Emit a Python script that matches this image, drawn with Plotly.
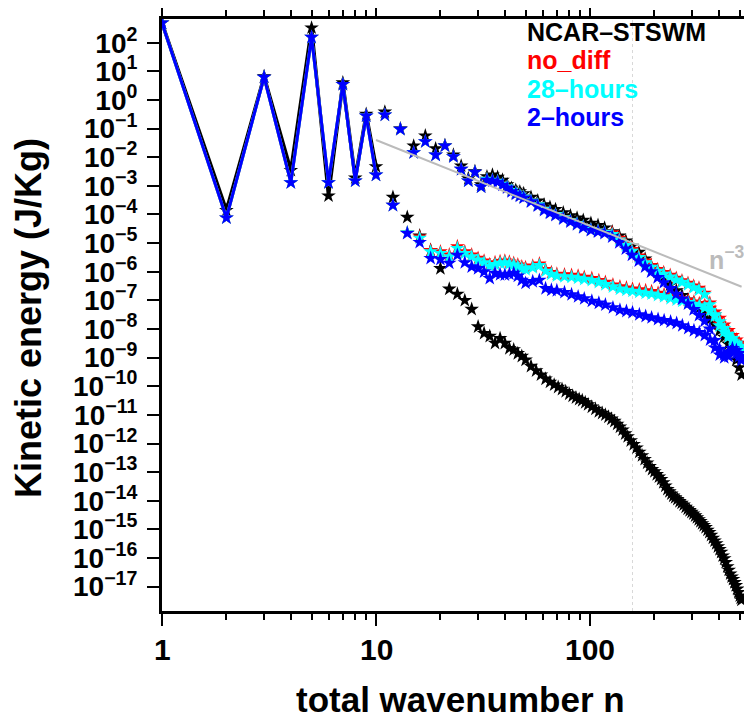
import math
import plotly.graph_objects as go

# ---------------- data ----------------
# odd total wavenumbers (upper branch) and even ones (lower branch)
N_ODD = [1, 3, 5, 7, 9, 11, 13, 15, 17, 19, 21, 23, 25, 27, 29, 31, 33, 35, 37, 39,
         41, 43, 45, 47, 49, 53, 57, 61, 65, 69, 75, 81, 87, 93, 101, 109, 117,
         127, 137, 147, 157, 169, 181, 193, 207, 221, 237, 253, 269, 287, 305,
         323, 343, 363, 383, 403, 423, 443, 463, 483, 497, 511]
N_EVEN = [2, 4, 6, 8, 10, 12, 14, 16, 18, 20, 22, 24, 26, 28, 30, 32, 34, 36, 38, 40,
          42, 44, 46, 48, 50, 54, 58, 62, 66, 70, 76, 82, 88, 94, 102, 110, 118,
          128, 138, 148, 158, 170, 182, 194, 208, 222, 238, 254, 270, 288, 306,
          324, 344, 364, 384, 404, 424, 444, 464, 484, 498, 510]
# the isolated NCAR-STSWM even branch is read more densely
N_EVEN_STSWM = [2, 4, 6, 8, 10, 12, 14, 16, 18, 20, 22, 24, 26, 28, 30, 32, 34, 36,
                38, 40, 42, 44, 46, 48, 50, 53, 56, 59, 62, 65, 68, 71, 74, 77, 80,
                83, 86, 89, 92, 95, 98, 102, 106, 110, 114, 118, 122, 126, 130, 134,
                138, 142, 146, 150, 155, 160, 165, 170, 175, 180, 185, 190, 195, 200,
                205, 210, 215, 220, 225, 230, 235, 240, 245, 250, 256, 262, 268, 274,
                280, 286, 292, 298, 304, 310, 316, 322, 328, 334, 340, 347, 354, 361,
                368, 375, 382, 389, 396, 403, 410, 417, 424, 431, 438, 445, 452, 459,
                466, 473, 480, 487, 494, 501, 506, 510]

stswm_odd = [490, 6.6, 330, 4.0, 0.32, 0.38, 0.1, 0.025, 0.056, 0.020, 0.026, 0.012,
             0.005, 1.8e-3, 3.2e-3, 1.1e-3, 2.1e-3, 2.4e-3, 2.0e-3, 1.6e-3,
             1.1e-3, 8.3e-4, 7.1e-4, 6.3e-4, 5.4e-4, 4.0e-4, 3.0e-4, 2.2e-4, 1.8e-4,
             1.5e-4, 1.15e-4, 9.1e-5, 7.6e-5, 6.3e-5, 5.0e-5, 4.2e-5, 3.4e-5,
             2.5e-5, 1.8e-5, 1.2e-5, 7.9e-6, 4.8e-6, 2.8e-6, 1.6e-6, 9.5e-7, 6.0e-7,
             3.5e-7, 2.2e-7, 1.5e-7, 1.05e-7, 7.6e-8, 5.4e-8, 3.5e-8, 2.2e-8,
             1.4e-8, 8.9e-9, 5.2e-9, 3.0e-9, 1.66e-9, 8.3e-10, 4.5e-10, 2.5e-10]
stswm_even = [1.4e-4, 3.5e-3, 4.5e-4, 1.9e-3, 4.7e-3, 4.0e-4, 8.0e-5, 1.8e-5, 5.6e-6,
              1.3e-6, 2.5e-7, 1.66e-7, 1.0e-7, 4.9e-8, 1.2e-8, 7.1e-9, 5.6e-9, 3.2e-9,
              4.7e-9, 3.2e-9, 2.1e-9, 1.9e-9, 1.4e-9, 1.12e-9,
              8.3e-10, 5.0e-10, 3.5e-10, 2.5e-10, 1.8e-10, 1.4e-10, 1.12e-10, 9.3e-11,
              7.9e-11, 6.6e-11, 5.4e-11, 4.6e-11, 4.0e-11, 3.5e-11, 3.2e-11, 2.7e-11,
              2.3e-11, 1.9e-11, 1.6e-11, 1.3e-11, 1.15e-11, 1.0e-11, 8.5e-12, 7.2e-12,
              6.0e-12, 4.8e-12, 3.8e-12, 3.0e-12, 2.2e-12, 1.74e-12, 1.26e-12, 9.3e-13,
              7.1e-13, 5.0e-13, 3.8e-13, 2.8e-13, 2.1e-13, 1.6e-13, 1.26e-13, 1.05e-13,
              8.3e-14, 6.9e-14, 5.6e-14, 4.3e-14, 3.3e-14, 2.5e-14, 2.1e-14, 1.74e-14,
              1.48e-14, 1.29e-14, 1.12e-14, 9.5e-15, 8.3e-15, 7.2e-15, 6.0e-15, 5.2e-15,
              4.6e-15, 4.0e-15, 3.5e-15, 3.0e-15, 2.6e-15, 2.2e-15, 1.9e-15, 1.6e-15,
              1.38e-15, 1.17e-15, 9.5e-16, 7.9e-16, 6.3e-16, 5.0e-16, 4.0e-16, 3.2e-16,
              2.5e-16, 2.0e-16, 1.6e-16, 1.2e-16, 9.5e-17, 7.1e-17, 5.0e-17, 3.8e-17,
              2.8e-17, 2.2e-17, 1.8e-17, 1.4e-17, 1.1e-17, 8.3e-18, 6.3e-18, 4.8e-18,
              4.0e-18, 3.4e-18]

nodiff_odd = [490, 6.3, 155, 3.5, 0.28, 0.3, 0.095, 0.0145, 0.035, 0.012, 0.025, 0.0105,
              0.0038, 1.5e-3, 3.0e-3, 9.3e-4, 1.7e-3, 1.6e-3, 1.45e-3, 1.15e-3,
              9.2e-4, 6.9e-4, 5.7e-4, 4.8e-4, 4.1e-4, 3.0e-4, 2.2e-4, 1.55e-4, 1.22e-4,
              1.0e-4, 7.8e-5, 6.1e-5, 4.9e-5, 3.8e-5, 3.0e-5, 2.7e-5, 2.4e-5,
              2.3e-5, 1.5e-5, 9.5e-6, 6.0e-6, 3.6e-6, 2.4e-6, 1.66e-6, 1.2e-6, 9.5e-7,
              7.6e-7, 6.0e-7, 4.9e-7, 4.0e-7, 3.2e-7, 2.7e-7, 1.8e-7, 8.1e-8,
              3.2e-8, 1.5e-8, 9.1e-9, 6.0e-9, 4.4e-9, 3.2e-9, 2.7e-9, 2.3e-9]
nodiff_even = [7.6e-5, 1.3e-3, 1.3e-3, 1.5e-3, 2.4e-3, 2.1e-4, 2.3e-5, 1.66e-5, 5.6e-6,
               5.0e-6, 3.9e-6, 7.6e-6, 5.0e-6, 3.9e-6, 3.0e-6, 2.4e-6, 1.8e-6, 2.1e-6,
               2.3e-6, 2.4e-6, 2.2e-6, 2.0e-6, 1.75e-6, 1.5e-6, 1.4e-6, 1.6e-6,
               1.9e-6, 1.2e-6, 9.5e-7, 8.3e-7, 7.9e-7, 7.6e-7, 7.1e-7, 6.5e-7,
               5.9e-7, 5.0e-7, 4.3e-7, 3.5e-7, 3.0e-7, 2.75e-7, 2.5e-7, 2.35e-7,
               2.2e-7, 2.05e-7, 1.8e-7, 1.6e-7, 1.4e-7, 1.26e-7, 1.15e-7, 1.02e-7,
               8.9e-8, 7.8e-8, 6.6e-8, 5.4e-8, 4.0e-8, 2.4e-8, 1.4e-8, 8.9e-9,
               6.0e-9, 4.2e-9, 3.2e-9, 2.5e-9]

h28_odd = [490, 6.3, 155, 3.5, 0.28, 0.3, 0.095, 0.0145, 0.035, 0.012, 0.025, 0.0105,
           0.0038, 1.5e-3, 3.0e-3, 9.3e-4, 1.7e-3, 1.6e-3, 1.45e-3, 1.15e-3,
           9.2e-4, 6.9e-4, 5.7e-4, 4.8e-4, 4.1e-4, 3.0e-4, 2.2e-4, 1.55e-4, 1.22e-4,
           1.0e-4, 7.8e-5, 6.1e-5, 4.9e-5, 3.8e-5, 3.0e-5, 2.7e-5, 2.4e-5,
           2.0e-5, 1.3e-5, 8.3e-6, 5.2e-6, 3.2e-6, 2.1e-6, 1.45e-6, 1.05e-6, 8.3e-7,
           6.6e-7, 5.2e-7, 4.3e-7, 3.5e-7, 2.8e-7, 2.3e-7, 1.6e-7, 7.1e-8,
           2.8e-8, 1.3e-8, 7.9e-9, 5.2e-9, 3.8e-9, 2.8e-9, 2.3e-9, 2.0e-9]
h28_even = [7.6e-5, 1.3e-3, 1.3e-3, 1.5e-3, 2.4e-3, 2.1e-4, 2.3e-5, 1.5e-5, 5.0e-6,
            4.4e-6, 3.4e-6, 6.6e-6, 4.4e-6, 3.4e-6, 2.6e-6, 2.1e-6, 1.6e-6, 1.8e-6,
            2.0e-6, 2.1e-6, 1.9e-6, 1.75e-6, 1.5e-6, 1.3e-6, 1.2e-6, 1.4e-6,
            1.66e-6, 1.05e-6, 8.3e-7, 7.2e-7, 6.8e-7, 6.5e-7, 6.0e-7, 5.5e-7,
            5.0e-7, 4.3e-7, 3.6e-7, 3.0e-7, 2.5e-7, 2.3e-7, 2.1e-7, 1.95e-7,
            1.8e-7, 1.7e-7, 1.5e-7, 1.35e-7, 1.17e-7, 1.05e-7, 9.5e-8, 8.5e-8,
            7.4e-8, 6.5e-8, 5.5e-8, 4.5e-8, 3.2e-8, 1.8e-8, 1.05e-8, 6.6e-9,
            4.7e-9, 3.3e-9, 2.5e-9, 2.0e-9]

h2_odd = [490, 6.3, 155, 3.5, 0.28, 0.3, 0.095, 0.0145, 0.035, 0.012, 0.025, 0.0105,
          0.0038, 1.5e-3, 3.0e-3, 9.3e-4, 1.6e-3, 1.5e-3, 1.35e-3, 1.07e-3,
          8.5e-4, 6.3e-4, 5.2e-4, 4.4e-4, 3.8e-4, 2.8e-4, 2.0e-4, 1.4e-4, 1.12e-4,
          9.3e-5, 7.1e-5, 5.6e-5, 4.5e-5, 3.5e-5, 2.8e-5, 2.5e-5, 2.2e-5,
          1.66e-5, 1.05e-5, 6.3e-6, 3.8e-6, 2.4e-6, 1.5e-6, 1.0e-6, 6.3e-7, 4.2e-7,
          2.6e-7, 1.66e-7, 1.12e-7, 7.6e-8, 4.8e-8, 3.0e-8, 1.9e-8, 1.0e-8,
          4.0e-9, 2.0e-9, 1.3e-9, 1.6e-9, 2.1e-9, 1.8e-9, 1.4e-9, 1.0e-9]
h2_even = [7.6e-5, 1.3e-3, 1.3e-3, 1.5e-3, 2.4e-3, 2.1e-4, 2.2e-5, 1.07e-5, 2.95e-6,
           2.7e-6, 2.0e-6, 3.8e-6, 2.1e-6, 1.5e-6, 1.3e-6, 1.0e-6, 5.9e-7, 8.9e-7,
           8.0e-7, 7.8e-7, 8.3e-7, 8.9e-7, 7.1e-7, 5.1e-7, 4.0e-7, 4.6e-7,
           5.1e-7, 2.6e-7, 2.3e-7, 2.2e-7, 1.9e-7, 1.6e-7, 1.35e-7, 1.15e-7,
           9.5e-8, 8.1e-8, 7.0e-8, 5.6e-8, 4.6e-8, 4.2e-8, 3.8e-8, 3.2e-8,
           2.8e-8, 2.5e-8, 2.2e-8, 2.0e-8, 1.8e-8, 1.6e-8, 1.32e-8, 1.05e-8,
           8.9e-9, 7.6e-9, 6.0e-9, 4.2e-9, 2.2e-9, 1.26e-9, 1.0e-9, 1.12e-9,
           1.66e-9, 1.4e-9, 1.12e-9, 8.0e-10]

# n^-3 reference line end points
REF_N = [10, 511]
REF_KE = [0.04, 3.0e-7]
VLINE_N = 158

SERIES = ["NCAR\u2013STSWM", "no_diff", "28\u2013hours", "2\u2013hours"]
COLORS = ["#000000", "#ff0000", "#00ffff", "#0000ff"]
Y_TICKS = [10.0 ** e for e in range(2, -18, -1)]
Y_TICKTEXT = ["10<sup>%s</sup>" % (str(e).replace("-", "\u2212")) for e in range(2, -18, -1)]
X_TICKS = [1, 10, 100]
X_TICKTEXT = ["1", "10", "100"]

# ---------------- figure ----------------
# the page body has an 8px margin, so the figure is sized/offset to compensate
OFF = 8
W, H = 752 - OFF, 721 - OFF
PLOT_L, PLOT_T, PLOT_R, PLOT_B = 162, 19, 752, 611      # target page pixels
L, T = PLOT_L - OFF, PLOT_T - OFF
R = 0
B = H + OFF - PLOT_B
PW, PH = PLOT_R - PLOT_L, PLOT_B - PLOT_T
DEC_X, DEC_Y = 214.0, 28.63
x_range = [0, PW / DEC_X]
y_top = 2 + (42.7 - PLOT_T) / DEC_Y
y_range = [y_top - PH / DEC_Y, y_top]


def fx(px):
    return (px - PLOT_L) / PW


def fy(py):
    return (PLOT_B - py) / PH


fig = go.Figure()

data = [(stswm_odd, N_EVEN_STSWM, stswm_even), (nodiff_odd, N_EVEN, nodiff_even),
        (h28_odd, N_EVEN, h28_even), (h2_odd, N_EVEN, h2_even)]

for (odd, n_even, even), name, col in zip(data, SERIES, COLORS):
    # connected low-wavenumber part n = 1..10
    low = sorted([(n, v) for n, v in zip(N_ODD, odd) if n <= 10] +
                 [(n, v) for n, v in zip(n_even, even) if n <= 10])
    fig.add_trace(go.Scatter(
        x=[p[0] for p in low], y=[p[1] for p in low], mode="lines",
        line=dict(color=col, width=3.5 if col == "#000000" else 3),
        hoverinfo="skip", showlegend=False))
    fig.add_trace(go.Scatter(
        x=N_ODD + n_even, y=odd + even, mode="markers", name=name,
        marker=dict(symbol="star", size=11, color=col, line=dict(width=0)),
        showlegend=False))

fig.add_trace(go.Scatter(x=REF_N, y=REF_KE, mode="lines",
                         line=dict(color="#bbbbbb", width=2),
                         hoverinfo="skip", showlegend=False))

fig.add_shape(type="line", xref="x", yref="paper",
              x0=VLINE_N, x1=VLINE_N, y0=0, y1=1,
              line=dict(color="#d8d8d8", width=1, dash="dot"), layer="below")

minor_vals = [m * 10 ** d for d in range(0, 3) for m in range(2, 10) if m * 10 ** d < 600]

fig.update_layout(
    width=W, height=H,
    margin=dict(l=L, r=R, t=T, b=B, autoexpand=False),
    plot_bgcolor="white", paper_bgcolor="white",
    showlegend=False,
    font=dict(family="Liberation Sans", color="black"),
    xaxis=dict(type="log", range=x_range, showgrid=False, zeroline=False,
               showline=True, linecolor="black", linewidth=3, mirror="ticks",
               ticks="outside", ticklen=12, tickwidth=2, tickcolor="black",
               tickvals=X_TICKS, showticklabels=False, automargin=False,
               minor=dict(tickvals=minor_vals, ticks="outside", ticklen=6,
                          tickwidth=2, tickcolor="black", showgrid=False)),
    yaxis=dict(type="log", range=y_range, showgrid=False, zeroline=False,
               showline=True, linecolor="black", linewidth=3,
               ticks="outside", ticklen=12, tickwidth=2, tickcolor="black",
               tickvals=Y_TICKS, ticktext=Y_TICKTEXT,
               tickfont=dict(size=28, weight="bold", family="Liberation Sans"),
               ticklabelstandoff=4, automargin=False),
)

ann = []
# x tick labels (placed at the axis positions of their tick values)
for v, t in zip(X_TICKS, X_TICKTEXT):
    ann.append(dict(text=t, xref="paper", yref="paper",
                    x=(math.log10(v) - x_range[0]) / (x_range[1] - x_range[0]),
                    y=fy(649), showarrow=False, xanchor="center", yanchor="middle",
                    font=dict(size=30, weight="bold", color="black")))
# axis titles
ann.append(dict(text="Kinetic energy (J/Kg)", xref="paper", yref="paper",
                x=fx(28), y=fy(318), textangle=-90, showarrow=False,
                xanchor="center", yanchor="middle",
                font=dict(size=36, weight="bold", color="black")))
ann.append(dict(text="total wavenumber n", xref="paper", yref="paper",
                x=fx(460), y=fy(700), showarrow=False,
                xanchor="center", yanchor="middle",
                font=dict(size=35, weight="bold", color="black")))
# legend texts
for i, (name, col) in enumerate(zip(SERIES, COLORS)):
    ann.append(dict(text=name, xref="paper", yref="paper",
                    x=fx(525), y=fy(32 + 28.5 * i), showarrow=False,
                    xanchor="left", yanchor="middle",
                    font=dict(size=25, weight="bold", color=col)))
# n^-3 label
ann.append(dict(text="n<sup>\u22123</sup>", xref="paper", yref="paper",
                x=fx(707), y=fy(258), showarrow=False,
                xanchor="left", yanchor="middle",
                font=dict(size=25, weight="bold", color="#bbbbbb")))
fig.update_layout(annotations=ann)

fig.write_html("out.html")
